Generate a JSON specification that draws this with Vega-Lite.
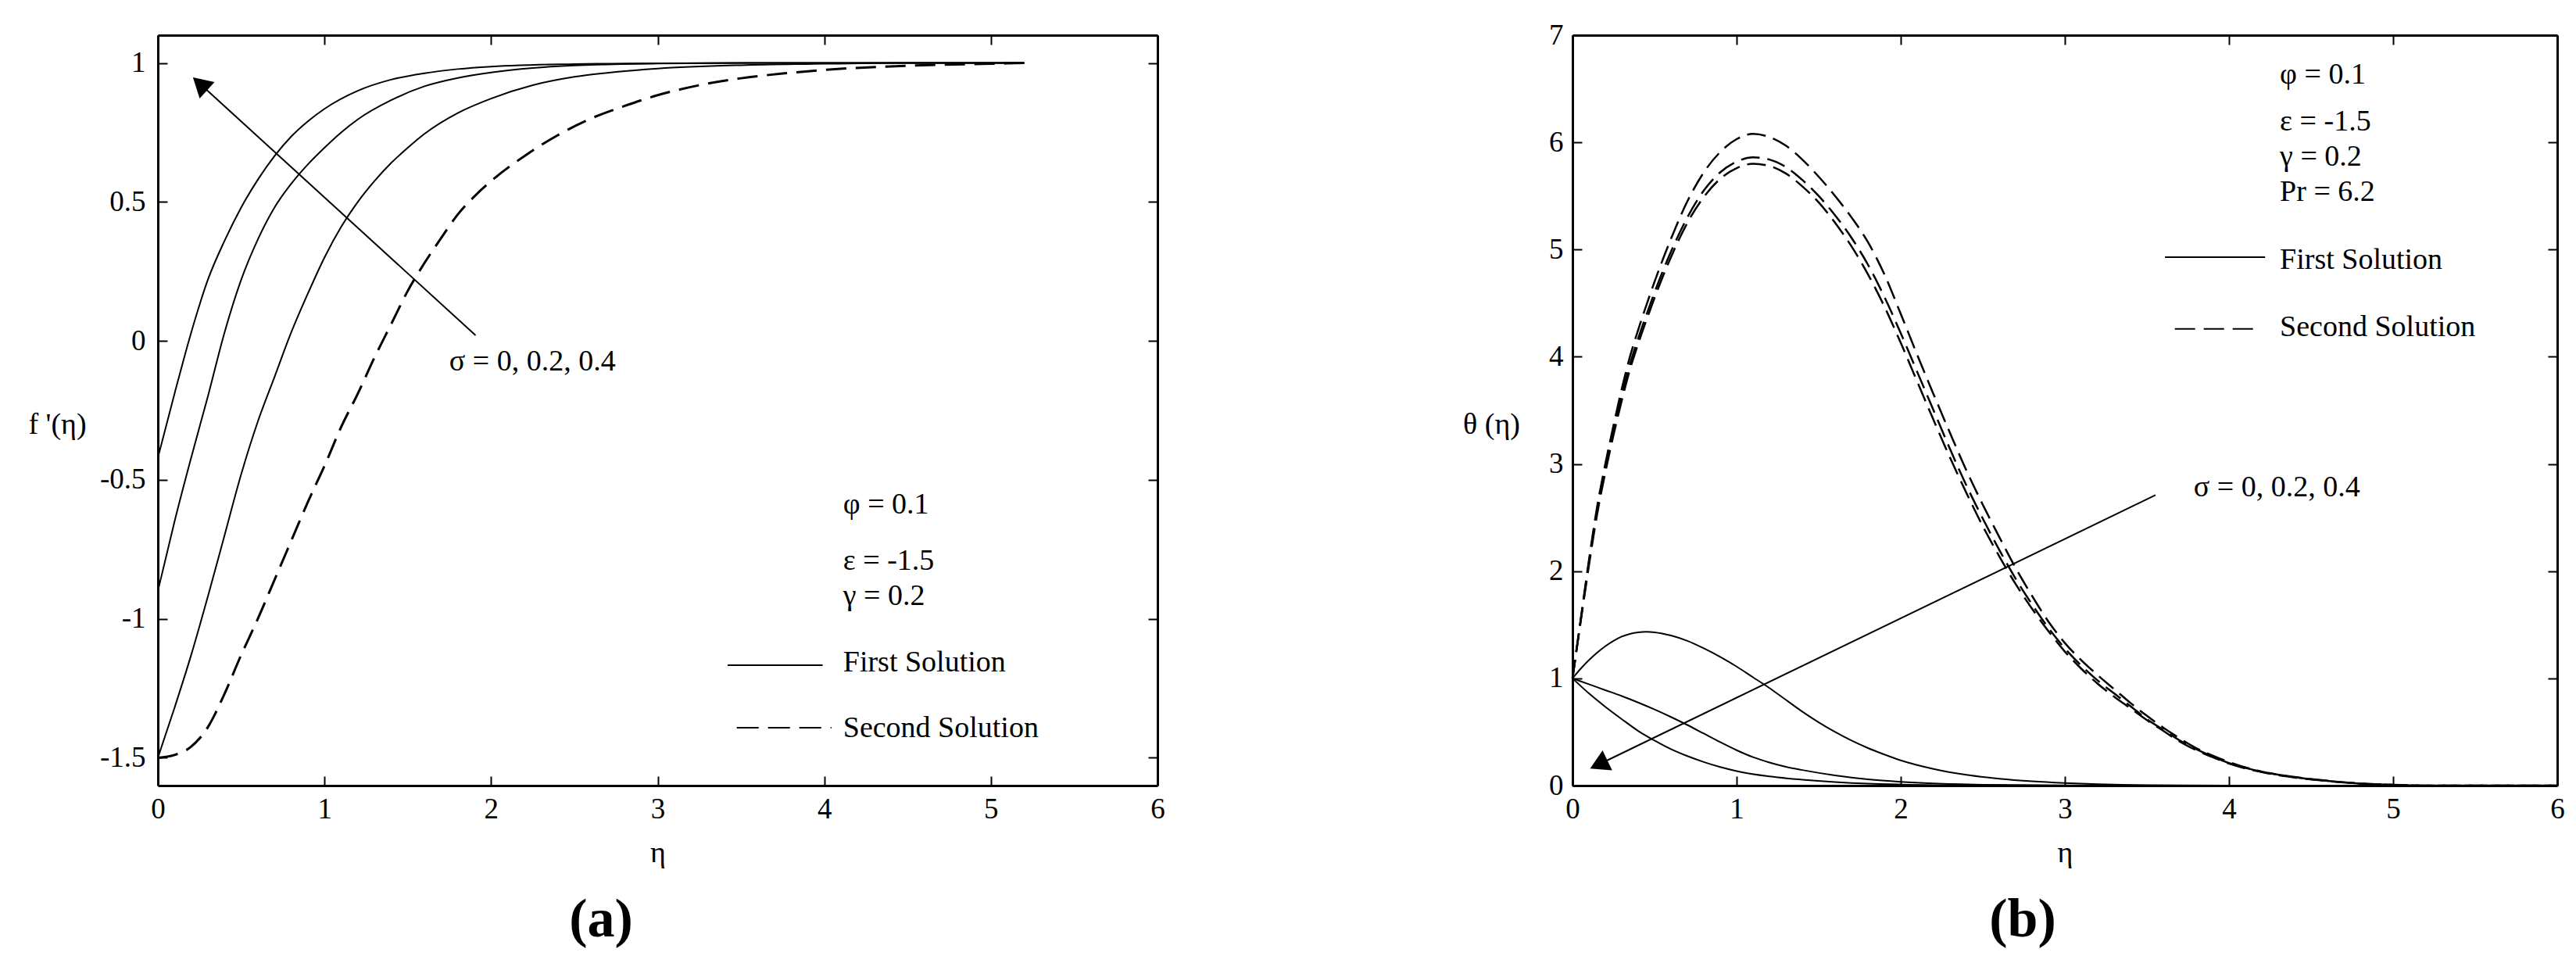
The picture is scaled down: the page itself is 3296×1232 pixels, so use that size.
{
"$schema": "https://vega.github.io/schema/vega-lite/v6.json",
"background": "white",
"padding": {"left": 35, "top": 26, "right": 0, "bottom": 0},
"spacing": 380,
"config": {
 "view": {"stroke": null},
 "font": "Liberation Serif",
 "axis": {"domainColor": "black", "domainWidth": 3, "tickColor": "black", "tickWidth": 2, "tickSize": -12, "grid": false, "labelFont": "Liberation Serif", "labelFontSize": 37, "labelColor": "black", "labelPadding": 24, "labelFlush": false, "labelOverlap": false, "titleFont": "Liberation Serif", "titleFontSize": 38, "titleFontWeight": "normal", "titleColor": "black"},
 "axisY": {"labelPadding": 28}
},
"datasets": {
 "fp": [
  {"c":"c1","e":0,"v":-0.42},{"c":"c1","e":0.1,"v":-0.19},{"c":"c1","e":0.2,"v":0.03},{"c":"c1","e":0.3,"v":0.22},{"c":"c1","e":0.4,"v":0.36},{"c":"c1","e":0.5,"v":0.48},{"c":"c1","e":0.6,"v":0.58},{"c":"c1","e":0.7,"v":0.665},{"c":"c1","e":0.8,"v":0.735},{"c":"c1","e":0.9,"v":0.79},{"c":"c1","e":1.0,"v":0.835},{"c":"c1","e":1.2,"v":0.9},{"c":"c1","e":1.4,"v":0.94},{"c":"c1","e":1.6,"v":0.963},{"c":"c1","e":1.8,"v":0.978},{"c":"c1","e":2.0,"v":0.987},{"c":"c1","e":2.5,"v":0.996},{"c":"c1","e":3.0,"v":0.999},{"c":"c1","e":4.0,"v":1.0},{"c":"c1","e":5.2,"v":1.0},
  {"c":"c2","e":0,"v":-0.9},{"c":"c2","e":0.1,"v":-0.65},{"c":"c2","e":0.2,"v":-0.42},{"c":"c2","e":0.3,"v":-0.2},{"c":"c2","e":0.4,"v":0.03},{"c":"c2","e":0.5,"v":0.22},{"c":"c2","e":0.6,"v":0.365},{"c":"c2","e":0.7,"v":0.48},{"c":"c2","e":0.8,"v":0.565},{"c":"c2","e":0.9,"v":0.635},{"c":"c2","e":1.0,"v":0.695},{"c":"c2","e":1.1,"v":0.75},{"c":"c2","e":1.2,"v":0.797},{"c":"c2","e":1.4,"v":0.866},{"c":"c2","e":1.6,"v":0.916},{"c":"c2","e":1.8,"v":0.946},{"c":"c2","e":2.0,"v":0.966},{"c":"c2","e":2.25,"v":0.982},{"c":"c2","e":2.5,"v":0.991},{"c":"c2","e":3.0,"v":0.998},{"c":"c2","e":3.5,"v":1.0},{"c":"c2","e":5.2,"v":1.0},
  {"c":"c3","e":0,"v":-1.5},{"c":"c3","e":0.1,"v":-1.32},{"c":"c3","e":0.2,"v":-1.13},{"c":"c3","e":0.3,"v":-0.92},{"c":"c3","e":0.4,"v":-0.7},{"c":"c3","e":0.5,"v":-0.48},{"c":"c3","e":0.6,"v":-0.29},{"c":"c3","e":0.7,"v":-0.13},{"c":"c3","e":0.8,"v":0.03},{"c":"c3","e":0.9,"v":0.17},{"c":"c3","e":1.0,"v":0.3},{"c":"c3","e":1.1,"v":0.41},{"c":"c3","e":1.2,"v":0.5},{"c":"c3","e":1.3,"v":0.575},{"c":"c3","e":1.4,"v":0.64},{"c":"c3","e":1.5,"v":0.695},{"c":"c3","e":1.6,"v":0.745},{"c":"c3","e":1.8,"v":0.82},{"c":"c3","e":2.0,"v":0.872},{"c":"c3","e":2.25,"v":0.92},{"c":"c3","e":2.5,"v":0.95},{"c":"c3","e":2.75,"v":0.968},{"c":"c3","e":3.0,"v":0.98},{"c":"c3","e":3.5,"v":0.992},{"c":"c3","e":4.0,"v":0.997},{"c":"c3","e":4.5,"v":1.0},{"c":"c3","e":5.2,"v":1.0},
  {"c":"d","e":0,"v":-1.5},{"c":"d","e":0.1,"v":-1.49},{"c":"d","e":0.2,"v":-1.46},{"c":"d","e":0.3,"v":-1.39},{"c":"d","e":0.4,"v":-1.27},{"c":"d","e":0.5,"v":-1.13},{"c":"d","e":0.6,"v":-1.0},{"c":"d","e":0.7,"v":-0.86},{"c":"d","e":0.8,"v":-0.72},{"c":"d","e":0.9,"v":-0.58},{"c":"d","e":1.0,"v":-0.45},{"c":"d","e":1.1,"v":-0.31},{"c":"d","e":1.2,"v":-0.19},{"c":"d","e":1.3,"v":-0.06},{"c":"d","e":1.4,"v":0.06},{"c":"d","e":1.5,"v":0.18},{"c":"d","e":1.6,"v":0.28},{"c":"d","e":1.7,"v":0.37},{"c":"d","e":1.8,"v":0.455},{"c":"d","e":1.9,"v":0.52},{"c":"d","e":2.0,"v":0.575},{"c":"d","e":2.2,"v":0.665},{"c":"d","e":2.4,"v":0.74},{"c":"d","e":2.6,"v":0.8},{"c":"d","e":2.8,"v":0.845},{"c":"d","e":3.0,"v":0.884},{"c":"d","e":3.25,"v":0.92},{"c":"d","e":3.5,"v":0.945},{"c":"d","e":3.75,"v":0.962},{"c":"d","e":4.0,"v":0.975},{"c":"d","e":4.5,"v":0.99},{"c":"d","e":5.0,"v":0.997},{"c":"d","e":5.2,"v":1.0}
 ],
 "th": [
  {"c":"A","e":0,"v":1.0},{"c":"A","e":0.05,"v":1.09},{"c":"A","e":0.1,"v":1.17},{"c":"A","e":0.15,"v":1.24},{"c":"A","e":0.2,"v":1.3},{"c":"A","e":0.25,"v":1.35},{"c":"A","e":0.3,"v":1.39},{"c":"A","e":0.35,"v":1.415},{"c":"A","e":0.4,"v":1.43},{"c":"A","e":0.45,"v":1.435},{"c":"A","e":0.5,"v":1.43},{"c":"A","e":0.6,"v":1.4},{"c":"A","e":0.7,"v":1.35},{"c":"A","e":0.8,"v":1.28},{"c":"A","e":0.9,"v":1.2},{"c":"A","e":1.0,"v":1.11},{"c":"A","e":1.1,"v":1.01},{"c":"A","e":1.2,"v":0.91},{"c":"A","e":1.3,"v":0.8},{"c":"A","e":1.4,"v":0.69},{"c":"A","e":1.5,"v":0.59},{"c":"A","e":1.6,"v":0.5},{"c":"A","e":1.7,"v":0.42},{"c":"A","e":1.8,"v":0.35},{"c":"A","e":1.9,"v":0.29},{"c":"A","e":2.0,"v":0.235},{"c":"A","e":2.2,"v":0.155},{"c":"A","e":2.4,"v":0.1},{"c":"A","e":2.6,"v":0.064},{"c":"A","e":2.8,"v":0.04},{"c":"A","e":3.0,"v":0.024},{"c":"A","e":3.2,"v":0.013},{"c":"A","e":3.5,"v":0.004},{"c":"A","e":4.0,"v":0},{"c":"A","e":6.0,"v":0},
  {"c":"B","e":0,"v":1.0},{"c":"B","e":0.1,"v":0.945},{"c":"B","e":0.2,"v":0.89},{"c":"B","e":0.3,"v":0.835},{"c":"B","e":0.4,"v":0.775},{"c":"B","e":0.5,"v":0.71},{"c":"B","e":0.6,"v":0.64},{"c":"B","e":0.7,"v":0.565},{"c":"B","e":0.8,"v":0.485},{"c":"B","e":0.9,"v":0.405},{"c":"B","e":1.0,"v":0.33},{"c":"B","e":1.1,"v":0.265},{"c":"B","e":1.2,"v":0.215},{"c":"B","e":1.3,"v":0.175},{"c":"B","e":1.4,"v":0.145},{"c":"B","e":1.6,"v":0.095},{"c":"B","e":1.8,"v":0.058},{"c":"B","e":2.0,"v":0.035},{"c":"B","e":2.2,"v":0.02},{"c":"B","e":2.5,"v":0.008},{"c":"B","e":3.0,"v":0.001},{"c":"B","e":6.0,"v":0},
  {"c":"C","e":0,"v":1.0},{"c":"C","e":0.1,"v":0.86},{"c":"C","e":0.2,"v":0.735},{"c":"C","e":0.3,"v":0.62},{"c":"C","e":0.4,"v":0.51},{"c":"C","e":0.5,"v":0.42},{"c":"C","e":0.6,"v":0.34},{"c":"C","e":0.7,"v":0.275},{"c":"C","e":0.8,"v":0.22},{"c":"C","e":0.9,"v":0.173},{"c":"C","e":1.0,"v":0.135},{"c":"C","e":1.2,"v":0.085},{"c":"C","e":1.4,"v":0.055},{"c":"C","e":1.6,"v":0.033},{"c":"C","e":1.8,"v":0.018},{"c":"C","e":2.0,"v":0.01},{"c":"C","e":2.5,"v":0.002},{"c":"C","e":3.0,"v":0},{"c":"C","e":6.0,"v":0},
  {"c":"D1","e":0,"v":1.0},{"c":"D1","e":0.05,"v":1.55},{"c":"D1","e":0.1,"v":2.1},{"c":"D1","e":0.15,"v":2.6},{"c":"D1","e":0.2,"v":3.0},{"c":"D1","e":0.25,"v":3.36},{"c":"D1","e":0.3,"v":3.7},{"c":"D1","e":0.35,"v":4.0},{"c":"D1","e":0.4,"v":4.25},{"c":"D1","e":0.45,"v":4.48},{"c":"D1","e":0.5,"v":4.7},{"c":"D1","e":0.6,"v":5.1},{"c":"D1","e":0.7,"v":5.45},{"c":"D1","e":0.8,"v":5.72},{"c":"D1","e":0.9,"v":5.91},{"c":"D1","e":1.0,"v":6.03},{"c":"D1","e":1.1,"v":6.08},{"c":"D1","e":1.2,"v":6.05},{"c":"D1","e":1.3,"v":5.97},{"c":"D1","e":1.4,"v":5.84},{"c":"D1","e":1.5,"v":5.68},{"c":"D1","e":1.6,"v":5.5},{"c":"D1","e":1.7,"v":5.3},{"c":"D1","e":1.8,"v":5.07},{"c":"D1","e":1.9,"v":4.77},{"c":"D1","e":2.0,"v":4.4},{"c":"D1","e":2.1,"v":4.02},{"c":"D1","e":2.2,"v":3.65},{"c":"D1","e":2.3,"v":3.29},{"c":"D1","e":2.4,"v":2.94},{"c":"D1","e":2.5,"v":2.62},{"c":"D1","e":2.6,"v":2.32},{"c":"D1","e":2.7,"v":2.03},{"c":"D1","e":2.8,"v":1.77},{"c":"D1","e":2.9,"v":1.53},{"c":"D1","e":3.0,"v":1.33},{"c":"D1","e":3.1,"v":1.17},{"c":"D1","e":3.2,"v":1.03},{"c":"D1","e":3.3,"v":0.9},{"c":"D1","e":3.4,"v":0.77},{"c":"D1","e":3.5,"v":0.65},{"c":"D1","e":3.6,"v":0.54},{"c":"D1","e":3.7,"v":0.44},{"c":"D1","e":3.8,"v":0.35},{"c":"D1","e":3.9,"v":0.28},{"c":"D1","e":4.0,"v":0.22},{"c":"D1","e":4.2,"v":0.13},{"c":"D1","e":4.4,"v":0.08},{"c":"D1","e":4.6,"v":0.045},{"c":"D1","e":4.8,"v":0.02},{"c":"D1","e":5.0,"v":0.008},{"c":"D1","e":5.2,"v":0},{"c":"D1","e":6.0,"v":0},
  {"c":"D2","e":0,"v":1.0},{"c":"D2","e":0.05,"v":1.54},{"c":"D2","e":0.1,"v":2.08},{"c":"D2","e":0.15,"v":2.57},{"c":"D2","e":0.2,"v":2.96},{"c":"D2","e":0.25,"v":3.31},{"c":"D2","e":0.3,"v":3.64},{"c":"D2","e":0.35,"v":3.93},{"c":"D2","e":0.4,"v":4.17},{"c":"D2","e":0.45,"v":4.39},{"c":"D2","e":0.5,"v":4.6},{"c":"D2","e":0.6,"v":4.98},{"c":"D2","e":0.7,"v":5.3},{"c":"D2","e":0.8,"v":5.55},{"c":"D2","e":0.9,"v":5.72},{"c":"D2","e":1.0,"v":5.82},{"c":"D2","e":1.1,"v":5.86},{"c":"D2","e":1.2,"v":5.84},{"c":"D2","e":1.3,"v":5.77},{"c":"D2","e":1.4,"v":5.65},{"c":"D2","e":1.5,"v":5.5},{"c":"D2","e":1.6,"v":5.32},{"c":"D2","e":1.7,"v":5.11},{"c":"D2","e":1.8,"v":4.86},{"c":"D2","e":1.9,"v":4.56},{"c":"D2","e":2.0,"v":4.22},{"c":"D2","e":2.1,"v":3.86},{"c":"D2","e":2.2,"v":3.5},{"c":"D2","e":2.3,"v":3.14},{"c":"D2","e":2.4,"v":2.8},{"c":"D2","e":2.5,"v":2.49},{"c":"D2","e":2.6,"v":2.2},{"c":"D2","e":2.7,"v":1.93},{"c":"D2","e":2.8,"v":1.69},{"c":"D2","e":2.9,"v":1.47},{"c":"D2","e":3.0,"v":1.28},{"c":"D2","e":3.1,"v":1.12},{"c":"D2","e":3.2,"v":0.98},{"c":"D2","e":3.3,"v":0.86},{"c":"D2","e":3.4,"v":0.74},{"c":"D2","e":3.5,"v":0.62},{"c":"D2","e":3.6,"v":0.52},{"c":"D2","e":3.7,"v":0.42},{"c":"D2","e":3.8,"v":0.34},{"c":"D2","e":3.9,"v":0.27},{"c":"D2","e":4.0,"v":0.21},{"c":"D2","e":4.2,"v":0.13},{"c":"D2","e":4.4,"v":0.078},{"c":"D2","e":4.6,"v":0.043},{"c":"D2","e":4.8,"v":0.019},{"c":"D2","e":5.0,"v":0.007},{"c":"D2","e":5.2,"v":0},{"c":"D2","e":6.0,"v":0},
  {"c":"D3","e":0,"v":1.0},{"c":"D3","e":0.05,"v":1.53},{"c":"D3","e":0.1,"v":2.05},{"c":"D3","e":0.15,"v":2.53},{"c":"D3","e":0.2,"v":2.92},{"c":"D3","e":0.25,"v":3.27},{"c":"D3","e":0.3,"v":3.59},{"c":"D3","e":0.35,"v":3.88},{"c":"D3","e":0.4,"v":4.12},{"c":"D3","e":0.45,"v":4.34},{"c":"D3","e":0.5,"v":4.55},{"c":"D3","e":0.6,"v":4.93},{"c":"D3","e":0.7,"v":5.25},{"c":"D3","e":0.8,"v":5.49},{"c":"D3","e":0.9,"v":5.66},{"c":"D3","e":1.0,"v":5.76},{"c":"D3","e":1.1,"v":5.8},{"c":"D3","e":1.2,"v":5.78},{"c":"D3","e":1.3,"v":5.71},{"c":"D3","e":1.4,"v":5.59},{"c":"D3","e":1.5,"v":5.44},{"c":"D3","e":1.6,"v":5.25},{"c":"D3","e":1.7,"v":5.03},{"c":"D3","e":1.8,"v":4.77},{"c":"D3","e":1.9,"v":4.47},{"c":"D3","e":2.0,"v":4.13},{"c":"D3","e":2.1,"v":3.77},{"c":"D3","e":2.2,"v":3.41},{"c":"D3","e":2.3,"v":3.06},{"c":"D3","e":2.4,"v":2.73},{"c":"D3","e":2.5,"v":2.42},{"c":"D3","e":2.6,"v":2.14},{"c":"D3","e":2.7,"v":1.88},{"c":"D3","e":2.8,"v":1.65},{"c":"D3","e":2.9,"v":1.44},{"c":"D3","e":3.0,"v":1.25},{"c":"D3","e":3.1,"v":1.09},{"c":"D3","e":3.2,"v":0.95},{"c":"D3","e":3.3,"v":0.83},{"c":"D3","e":3.4,"v":0.72},{"c":"D3","e":3.5,"v":0.61},{"c":"D3","e":3.6,"v":0.51},{"c":"D3","e":3.7,"v":0.41},{"c":"D3","e":3.8,"v":0.33},{"c":"D3","e":3.9,"v":0.265},{"c":"D3","e":4.0,"v":0.205},{"c":"D3","e":4.2,"v":0.125},{"c":"D3","e":4.4,"v":0.075},{"c":"D3","e":4.6,"v":0.042},{"c":"D3","e":4.8,"v":0.018},{"c":"D3","e":5.0,"v":0.006},{"c":"D3","e":5.2,"v":0},{"c":"D3","e":6.0,"v":0}
 ],
 "arrowL": [{"e":1.907,"v":0.02},{"e":0.253,"v":0.925}],
 "headL": [{"e":0.253,"v":0.925}],
 "legL1": [{"e":3.42,"v":-1.167},{"e":3.99,"v":-1.167}],
 "legL2": [{"e":3.475,"v":-1.392},{"e":4.043,"v":-1.392}],
 "txtL": [
  {"e":4.113,"v":-0.621,"t":"φ = 0.1"},
  {"e":4.113,"v":-0.824,"t":"ε = -1.5"},
  {"e":4.113,"v":-0.95,"t":"γ = 0.2"},
  {"e":4.113,"v":-1.189,"t":"First Solution"},
  {"e":4.113,"v":-1.425,"t":"Second Solution"},
  {"e":1.749,"v":-0.106,"t":"σ = 0, 0.2, 0.4"}
 ],
 "capL": [{"e":2.66,"v":-2.142,"t":"(a)"}],
 "arrowR": [{"e":3.552,"v":2.71},{"e":0.16,"v":0.197}],
 "headR": [{"e":0.16,"v":0.197}],
 "legR1": [{"e":3.61,"v":4.93},{"e":4.22,"v":4.93}],
 "legR2": [{"e":3.67,"v":4.26},{"e":4.17,"v":4.26}],
 "txtR": [
  {"e":4.31,"v":6.55,"t":"φ = 0.1"},
  {"e":4.31,"v":6.11,"t":"ε = -1.5"},
  {"e":4.31,"v":5.78,"t":"γ = 0.2"},
  {"e":4.31,"v":5.455,"t":"Pr = 6.2"},
  {"e":4.31,"v":4.82,"t":"First Solution"},
  {"e":4.31,"v":4.19,"t":"Second Solution"},
  {"e":3.785,"v":2.7,"t":"σ = 0, 0.2, 0.4"}
 ],
 "capR": [{"e":2.743,"v":-1.408,"t":"(b)"}]
},
"hconcat": [
 {
  "width": 1279, "height": 960,
  "resolve": {"axis": {"x": "independent", "y": "independent"}},
  "layer": [
   {"data": {"name": "fp"}, "transform": [{"filter": "datum.c !== 'd'"}],
    "mark": {"type": "line", "color": "black", "strokeWidth": 2, "interpolate": "monotone"},
    "encoding": {
     "x": {"field": "e", "type": "quantitative", "scale": {"domain": [0, 6], "nice": false}, "axis": {"orient": "bottom", "values": [0,1,2,3,4,5,6], "title": "η", "titleY": 86, "titleBaseline": "middle"}},
     "y": {"field": "v", "type": "quantitative", "scale": {"domain": [-1.6, 1.1], "nice": false, "zero": false}, "axis": {"orient": "left", "values": [-1.5,-1,-0.5,0,0.5,1], "labelExpr": "toString(datum.value)", "title": "f '(η)", "titleAngle": 0, "titleX": -129, "titleY": 498, "titleAlign": "center", "titleBaseline": "middle"}},
     "detail": {"field": "c"}
    }},
   {"data": {"name": "fp"}, "transform": [{"filter": "datum.c === 'd'"}],
    "mark": {"type": "line", "color": "black", "strokeWidth": 3, "strokeDash": [26, 12], "interpolate": "monotone"},
    "encoding": {
     "x": {"field": "e", "type": "quantitative", "scale": {"domain": [0, 6], "nice": false}, "axis": {"orient": "top", "values": [0,1,2,3,4,5,6], "labels": false, "title": null}},
     "y": {"field": "v", "type": "quantitative", "scale": {"domain": [-1.6, 1.1], "nice": false, "zero": false}, "axis": {"orient": "right", "values": [-1.5,-1,-0.5,0,0.5,1], "labels": false, "title": null}}
    }},
   {"data": {"name": "arrowL"},
    "mark": {"type": "line", "color": "black", "strokeWidth": 2},
    "encoding": {
     "x": {"field": "e", "type": "quantitative", "scale": {"domain": [0, 6], "nice": false}, "axis": null},
     "y": {"field": "v", "type": "quantitative", "scale": {"domain": [-1.6, 1.1], "nice": false, "zero": false}, "axis": null}
    }},
   {"data": {"name": "headL"},
    "mark": {"type": "point", "shape": "triangle-up", "filled": true, "color": "black", "opacity": 1, "size": 800, "angle": 312.4},
    "encoding": {
     "x": {"field": "e", "type": "quantitative", "scale": {"domain": [0, 6], "nice": false}, "axis": null},
     "y": {"field": "v", "type": "quantitative", "scale": {"domain": [-1.6, 1.1], "nice": false, "zero": false}, "axis": null}
    }},
   {"data": {"name": "legL1"},
    "mark": {"type": "line", "color": "black", "strokeWidth": 2},
    "encoding": {
     "x": {"field": "e", "type": "quantitative", "scale": {"domain": [0, 6], "nice": false}, "axis": null},
     "y": {"field": "v", "type": "quantitative", "scale": {"domain": [-1.6, 1.1], "nice": false, "zero": false}, "axis": null}
    }},
   {"data": {"name": "legL2"},
    "mark": {"type": "line", "color": "black", "strokeWidth": 2, "strokeDash": [28, 12]},
    "encoding": {
     "x": {"field": "e", "type": "quantitative", "scale": {"domain": [0, 6], "nice": false}, "axis": null},
     "y": {"field": "v", "type": "quantitative", "scale": {"domain": [-1.6, 1.1], "nice": false, "zero": false}, "axis": null}
    }},
   {"data": {"name": "txtL"},
    "mark": {"type": "text", "align": "left", "baseline": "alphabetic", "fontSize": 38, "font": "Liberation Serif", "color": "black"},
    "encoding": {
     "x": {"field": "e", "type": "quantitative", "scale": {"domain": [0, 6], "nice": false}, "axis": null},
     "y": {"field": "v", "type": "quantitative", "scale": {"domain": [-1.6, 1.1], "nice": false, "zero": false}, "axis": null},
     "text": {"field": "t"}
    }},
   {"data": {"name": "capL"},
    "mark": {"type": "text", "align": "center", "baseline": "alphabetic", "fontSize": 70, "fontWeight": "bold", "font": "Liberation Serif", "color": "black"},
    "encoding": {
     "x": {"field": "e", "type": "quantitative", "scale": {"domain": [0, 6], "nice": false}, "axis": null},
     "y": {"field": "v", "type": "quantitative", "scale": {"domain": [-1.6, 1.1], "nice": false, "zero": false}, "axis": null},
     "text": {"field": "t"}
    }}
  ]
 },
 {
  "width": 1260, "height": 960,
  "resolve": {"axis": {"x": "independent", "y": "independent"}},
  "layer": [
   {"data": {"name": "th"}, "transform": [{"filter": "length(datum.c) === 1"}],
    "mark": {"type": "line", "color": "black", "strokeWidth": 2, "interpolate": "monotone"},
    "encoding": {
     "x": {"field": "e", "type": "quantitative", "scale": {"domain": [0, 6], "nice": false}, "axis": {"orient": "bottom", "values": [0,1,2,3,4,5,6], "title": "η", "titleY": 86, "titleBaseline": "middle"}},
     "y": {"field": "v", "type": "quantitative", "scale": {"domain": [0, 7], "nice": false}, "axis": {"orient": "left", "values": [0,1,2,3,4,5,6,7], "labelPadding": 24, "title": "θ (η)", "titleAngle": 0, "titleX": -104, "titleY": 498, "titleAlign": "center", "titleBaseline": "middle"}},
     "detail": {"field": "c"}
    }},
   {"data": {"name": "th"}, "transform": [{"filter": "length(datum.c) === 2"}],
    "mark": {"type": "line", "color": "black", "strokeWidth": 2.5, "strokeDash": [24, 10], "interpolate": "monotone"},
    "encoding": {
     "x": {"field": "e", "type": "quantitative", "scale": {"domain": [0, 6], "nice": false}, "axis": {"orient": "top", "values": [0,1,2,3,4,5,6], "labels": false, "title": null}},
     "y": {"field": "v", "type": "quantitative", "scale": {"domain": [0, 7], "nice": false}, "axis": {"orient": "right", "values": [0,1,2,3,4,5,6,7], "labels": false, "title": null}},
     "detail": {"field": "c"}
    }},
   {"data": {"name": "arrowR"},
    "mark": {"type": "line", "color": "black", "strokeWidth": 2},
    "encoding": {
     "x": {"field": "e", "type": "quantitative", "scale": {"domain": [0, 6], "nice": false}, "axis": null},
     "y": {"field": "v", "type": "quantitative", "scale": {"domain": [0, 7], "nice": false}, "axis": null}
    }},
   {"data": {"name": "headR"},
    "mark": {"type": "point", "shape": "triangle-up", "filled": true, "color": "black", "opacity": 1, "size": 800, "angle": 244.2},
    "encoding": {
     "x": {"field": "e", "type": "quantitative", "scale": {"domain": [0, 6], "nice": false}, "axis": null},
     "y": {"field": "v", "type": "quantitative", "scale": {"domain": [0, 7], "nice": false}, "axis": null}
    }},
   {"data": {"name": "legR1"},
    "mark": {"type": "line", "color": "black", "strokeWidth": 2},
    "encoding": {
     "x": {"field": "e", "type": "quantitative", "scale": {"domain": [0, 6], "nice": false}, "axis": null},
     "y": {"field": "v", "type": "quantitative", "scale": {"domain": [0, 7], "nice": false}, "axis": null}
    }},
   {"data": {"name": "legR2"},
    "mark": {"type": "line", "color": "black", "strokeWidth": 2, "strokeDash": [26, 11]},
    "encoding": {
     "x": {"field": "e", "type": "quantitative", "scale": {"domain": [0, 6], "nice": false}, "axis": null},
     "y": {"field": "v", "type": "quantitative", "scale": {"domain": [0, 7], "nice": false}, "axis": null}
    }},
   {"data": {"name": "txtR"},
    "mark": {"type": "text", "align": "left", "baseline": "alphabetic", "fontSize": 38, "font": "Liberation Serif", "color": "black"},
    "encoding": {
     "x": {"field": "e", "type": "quantitative", "scale": {"domain": [0, 6], "nice": false}, "axis": null},
     "y": {"field": "v", "type": "quantitative", "scale": {"domain": [0, 7], "nice": false}, "axis": null},
     "text": {"field": "t"}
    }},
   {"data": {"name": "capR"},
    "mark": {"type": "text", "align": "center", "baseline": "alphabetic", "fontSize": 70, "fontWeight": "bold", "font": "Liberation Serif", "color": "black"},
    "encoding": {
     "x": {"field": "e", "type": "quantitative", "scale": {"domain": [0, 6], "nice": false}, "axis": null},
     "y": {"field": "v", "type": "quantitative", "scale": {"domain": [0, 7], "nice": false}, "axis": null},
     "text": {"field": "t"}
    }}
  ]
 }
]
}
